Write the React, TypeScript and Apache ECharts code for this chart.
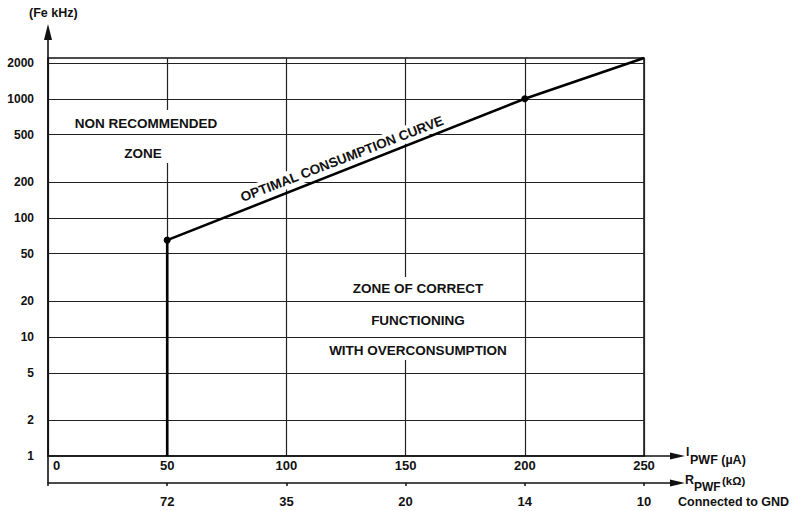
import React, { useEffect, useRef } from "react";
import * as echarts from "echarts";

// Data
const I_TICKS = [0, 50, 100, 150, 200, 250]; // I_PWF (µA)
const R_LABELS = ["", "72", "35", "20", "14", "10"]; // R_PWF (kΩ) at the same positions
const Y_GRID = [1, 2, 5, 10, 20, 50, 100, 200, 500, 1000, 2000]; // Fe kHz gridlines
const CURVE_I = [50, 50, 200, 250];
const CURVE_F = [1, 65, 1000, 2200];
const CURVE_MARK = [false, true, true, false];

const FONT = "'Liberation Sans', Arial, Helvetica, sans-serif";
const INK = "#111";

export default function App() {
  const ref = useRef<HTMLDivElement>(null);

  useEffect(() => {
    if (!ref.current) return;
    const chart = echarts.init(ref.current, undefined, { renderer: "svg" });
    const txt = (extra: any) => ({
      fill: INK,
      fontFamily: FONT,
      fontWeight: "bold",
      ...extra,
    });
    const option: any = {
      animation: false,
      backgroundColor: "#fff",
      grid: {
        show: true,
        left: 48,
        top: 58,
        width: 596,
        height: 398,
        borderColor: INK,
        borderWidth: 1.5,
        containLabel: false,
      },
      xAxis: [
        {
          type: "value",
          min: 0,
          max: 250,
          interval: 50,
          position: "bottom",
          axisLine: { show: true, lineStyle: { color: INK, width: 1.5 } },
          axisTick: { show: false },
          splitLine: { show: true, lineStyle: { color: "#222", width: 1.2 } },
          axisLabel: {
            margin: 3,
            color: INK,
            fontFamily: FONT,
            fontWeight: "bold",
            fontSize: 13,
            alignMinLabel: "left",
            formatter: (v: number) => (v === 0 ? "{z|0}" : String(v)),
            rich: {
              z: {
                padding: [0, 0, 0, 5],
                color: INK,
                fontFamily: FONT,
                fontWeight: "bold",
                fontSize: 13,
              },
            },
          },
        },
        {
          type: "value",
          min: 0,
          max: 250,
          interval: 50,
          position: "bottom",
          offset: 27,
          axisLine: { show: true, lineStyle: { color: INK, width: 1.5 } },
          axisTick: { show: true, length: 3, lineStyle: { color: INK, width: 1.5 } },
          splitLine: { show: false },
          axisLabel: {
            margin: 12,
            color: INK,
            fontFamily: FONT,
            fontWeight: "bold",
            fontSize: 13,
            formatter: (v: number) => {
              const i = I_TICKS.indexOf(v);
              return i >= 0 ? R_LABELS[i] : "";
            },
          },
        },
      ],
      yAxis: {
        type: "log",
        logBase: 10,
        min: 1,
        max: 2200,
        axisLine: { show: false },
        axisTick: { show: false },
        axisLabel: { show: false },
        splitLine: { show: false },
      },
      series: [
        {
          type: "line",
          data: [],
          z: 2,
          silent: true,
          markLine: {
            silent: true,
            symbol: ["none", "none"],
            lineStyle: { color: "#222", width: 1.2, type: "solid" },
            label: {
              show: true,
              position: "start",
              distance: 14,
              formatter: (p: any) => String(p.value),
              color: INK,
              fontFamily: FONT,
              fontWeight: "bold",
              fontSize: 12,
            },
            emphasis: { disabled: true },
            data: Y_GRID.map((v) => ({ yAxis: v })),
          },
        },
        {
          type: "line",
          z: 10,
          silent: true,
          symbolSize: 7,
          itemStyle: { color: "#000" },
          lineStyle: { color: "#000", width: 2.6 },
          data: CURVE_I.map((x, i) => ({
            value: [x, CURVE_F[i]],
            symbol: CURVE_MARK[i] ? "circle" : "none",
          })),
        },
      ],
      graphic: [
        // left vertical axis with arrow
        { type: "line", z: 3, shape: { x1: 48, y1: 483, x2: 48, y2: 36 }, style: { stroke: INK, lineWidth: 1.6 } },
        { type: "polygon", z: 3, shape: { points: [[44, 40], [48, 24], [52, 40]] }, style: { fill: INK } },
        // I axis extension with arrow
        { type: "line", z: 3, shape: { x1: 644, y1: 456, x2: 672, y2: 456 }, style: { stroke: INK, lineWidth: 1.5 } },
        { type: "polygon", z: 3, shape: { points: [[670, 452.5], [685, 456], [670, 459.5]] }, style: { fill: INK } },
        // R axis extension with arrow
        { type: "line", z: 3, shape: { x1: 644, y1: 483, x2: 672, y2: 483 }, style: { stroke: INK, lineWidth: 1.5 } },
        { type: "polygon", z: 3, shape: { points: [[670, 479.5], [685, 483], [670, 486.5]] }, style: { fill: INK } },
        // axis titles
        { type: "text", z: 6, x: 29, y: 13, style: txt({ text: "(Fe kHz)", fontSize: 12.5, verticalAlign: "middle" }) },
        { type: "text", z: 6, x: 686, y: 452, style: txt({ text: "I", fontSize: 12, verticalAlign: "middle" }) },
        { type: "text", z: 6, x: 690, y: 460, style: txt({ text: "PWF (µA)", fontSize: 12.5, verticalAlign: "middle" }) },
        { type: "text", z: 6, x: 685, y: 480, style: txt({ text: "R", fontSize: 12.5, verticalAlign: "middle" }) },
        { type: "text", z: 6, x: 694, y: 487, style: txt({ text: "PWF", fontSize: 12, verticalAlign: "middle" }) },
        { type: "text", z: 6, x: 722, y: 481, style: txt({ text: "(kΩ)", fontSize: 11.5, verticalAlign: "middle" }) },
        { type: "text", z: 6, x: 678, y: 502, style: txt({ text: "Connected to GND", fontSize: 12.5, verticalAlign: "middle" }) },
        // non recommended zone
        { type: "rect", z: 5, shape: { x: 70, y: 110, width: 155, height: 53 }, style: { fill: "#fff" } },
        { type: "text", z: 6, x: 146, y: 123, style: txt({ text: "NON RECOMMENDED", fontSize: 13.5, align: "center", verticalAlign: "middle" }) },
        { type: "text", z: 6, x: 143, y: 153, style: txt({ text: "ZONE", fontSize: 13.5, align: "center", verticalAlign: "middle" }) },
        // correct functioning zone
        { type: "rect", z: 5, shape: { x: 320, y: 277, width: 195, height: 83 }, style: { fill: "#fff" } },
        { type: "text", z: 6, x: 418, y: 288, style: txt({ text: "ZONE OF CORRECT", fontSize: 13.5, align: "center", verticalAlign: "middle" }) },
        { type: "text", z: 6, x: 418, y: 320, style: txt({ text: "FUNCTIONING", fontSize: 13.5, align: "center", verticalAlign: "middle" }) },
        { type: "text", z: 6, x: 418, y: 350, style: txt({ text: "WITH OVERCONSUMPTION", fontSize: 13.5, align: "center", verticalAlign: "middle" }) },
        // curve label
        {
          type: "text",
          z: 6,
          x: 342,
          y: 159,
          rotation: (21.1 * Math.PI) / 180,
          style: txt({
            text: "OPTIMAL CONSUMPTION CURVE",
            fontSize: 13.5,
            align: "center",
            verticalAlign: "middle",
            backgroundColor: "#fff",
            padding: [2, 3, 1, 3],
          }),
        },
      ],
    };
    chart.setOption(option);
    return () => chart.dispose();
  }, []);

  return (
    <div
      ref={ref}
      style={{ position: "absolute", left: 0, top: 0, width: 792, height: 511, background: "#fff" }}
    />
  );
}
